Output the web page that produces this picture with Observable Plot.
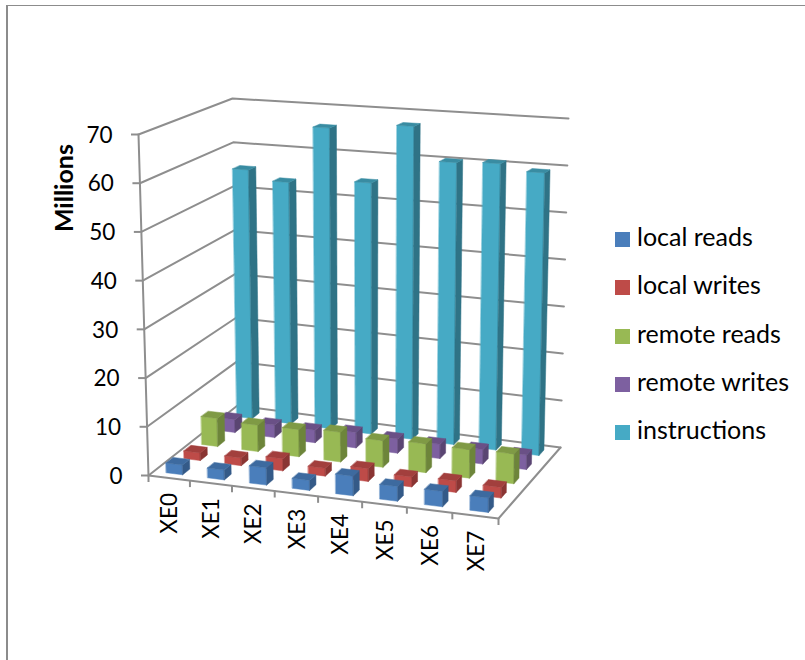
<!DOCTYPE html>
<html>
<head>
<meta charset="utf-8">
<script src="https://cdn.jsdelivr.net/npm/d3@7"></script>
<script src="https://cdn.jsdelivr.net/npm/@observablehq/plot@0.6"></script>
<style>
  html, body { margin: 0; background: #fff; }
  #page { position: relative; width: 805px; height: 660px; overflow: hidden; font-family: Lato, sans-serif; color: #000; }
  #frame { position: absolute; left: 6px; top: 5px; right: -2px; bottom: -2px; border-left: 2px solid #8c8c8c; border-top: 1.5px solid #8c8c8c; }
  #chart { position: absolute; left: 0; top: 0; }
  #legend { position: absolute; left: 615px; top: 212px; font-size: 25px; line-height: 48.25px; white-space: nowrap; }
  #legend i { display: inline-block; width: 15px; height: 15px; margin-right: 7px; vertical-align: -1px; }
</style>
</head>
<body>
<div id="page">
  <div id="frame"></div>
  <div id="chart"></div>
  <div id="legend"></div>
</div>
<script>
// Values in millions, one array per series.
const categories = ["XE0", "XE1", "XE2", "XE3", "XE4", "XE5", "XE6", "XE7"];
const seriesNames = ["local reads", "local writes", "remote reads", "remote writes", "instructions"];
const localReads = [2.0, 2.0, 3.5, 2.0, 3.9, 2.9, 3.0, 2.8];
const localWrites = [1.6, 1.6, 2.5, 1.6, 2.6, 2.0, 2.3, 2.1];
const remoteReads = [6.0, 5.6, 5.7, 6.2, 5.5, 5.9, 5.8, 6.0];
const remoteWrites = [2.8, 2.7, 2.7, 3.3, 3.0, 3.0, 3.0, 3.0];
const instructions = [55.5, 53.4, 66.0, 54.6, 67.5, 60.3, 60.7, 59.4];
const seriesValues = [localReads, localWrites, remoteReads, remoteWrites, instructions];
const yTicks = [0, 10, 20, 30, 40, 50, 60, 70];

const frontColors = ["#4a7ebb", "#be4b48", "#98b954", "#7d60a0", "#46aac5"];
const sideColors = ["#345a88", "#8a3533", "#6d853a", "#5a4572", "#2f7386"];
const topColors = ["#3d6a9f", "#a23f3d", "#7f9a45", "#6a5086", "#398ca2"];
const gridColor = "#8e8e8e";

// Box corners of the plotting volume on the page: [x, y, depth weight].
const yMax = 70;
const corners = {
  frontLeft: { low: [148, 475], high: [138, 134], w: 1 },
  frontRight: { low: [498, 518], high: [501, 153], w: 0.94 },
  backLeft: { low: [237, 405], high: [232, 98], w: 1.02 },
  backRight: { low: [560, 447], high: [568, 118], w: 0.96 }
};

// Perspective projection of (category position, series position, value).
function project(u, v, value) {
  const a = u / categories.length, b = v / seriesNames.length, c = value / yMax;
  let X = 0, Y = 0, W = 0;
  for (const [corner, weight] of [
    [corners.frontLeft, (1 - a) * (1 - b)],
    [corners.frontRight, a * (1 - b)],
    [corners.backLeft, (1 - a) * b],
    [corners.backRight, a * b]
  ]) {
    const px = corner.low[0] + (corner.high[0] - corner.low[0]) * c;
    const py = corner.low[1] + (corner.high[1] - corner.low[1]) * c;
    const k = weight * corner.w;
    X += px * k; Y += py * k; W += k;
  }
  return [X / W, Y / W];
}

// Each bar is three filled faces; back rows first, then left to right.
const faces = [];
function addFace(id, fill, points) {
  for (const [x, y] of points) faces.push({ id, fill, x, y });
}
const barStart = 0.3, barSize = 0.4;
for (let s = seriesNames.length - 1; s >= 0; s--) {
  seriesValues[s].forEach((value, i) => {
    const u0 = i + barStart, u1 = u0 + barSize;
    const v0 = s + barStart, v1 = v0 + barSize;
    addFace(`${s}-${i}-front`, frontColors[s], [
      project(u0, v0, 0), project(u1, v0, 0), project(u1, v0, value), project(u0, v0, value)
    ]);
    addFace(`${s}-${i}-side`, sideColors[s], [
      project(u1, v0, 0), project(u1, v1, 0), project(u1, v1, value), project(u1, v0, value)
    ]);
    addFace(`${s}-${i}-top`, topColors[s], [
      project(u0, v0, value), project(u1, v0, value), project(u1, v1, value), project(u0, v1, value)
    ]);
  });
}

// Wall gridlines, floor outline and axis ticks, all from the same projection.
const nU = categories.length, nV = seriesNames.length;
const wallLines = yTicks.map((t) => [project(0, 0, t), project(0, nV, t), project(nU, nV, t)]);
const floorOutline = [project(0, 0, 0), project(nU, 0, 0), project(nU, nV, 0)];
const yAxisLine = [project(0, 0, 0), project(0, 0, yMax)];
const rows = (lines) => lines.flatMap((pts, k) => pts.map(([x, y]) => ({ k, x, y })));

const catTicks = d3.range(nU + 1).map((u) => project(u, 0, 0));
const catLabels = categories.map((name, i) => {
  const [x, y] = project(i + 0.5, 0, 0);
  return { name, x, y };
});
const valueLabels = yTicks.map((t) => {
  const [x, y] = project(0, 0, t);
  return { t, x, y };
});
const [titleX, titleY] = project(0, 0, 59);

const lineStyle = { x: "x", y: "y", z: "k", stroke: gridColor, strokeWidth: 2 };

const plot = Plot.plot({
  width: 805,
  height: 660,
  margin: 0,
  style: { background: "none", fontFamily: "Lato, sans-serif" },
  x: { domain: [0, 805], axis: null },
  y: { domain: [660, 0], axis: null },
  marks: [
    Plot.line(rows(wallLines), lineStyle),
    Plot.line(rows([floorOutline, yAxisLine]), lineStyle),
    Plot.ruleX(catTicks, { x: "0", y1: "1", y2: (d) => d[1] + 7, stroke: gridColor, strokeWidth: 2 }),
    Plot.ruleY(valueLabels, { y: "y", x1: (d) => d.x - 7, x2: "x", stroke: gridColor, strokeWidth: 2 }),
    Plot.line(faces, { x: "x", y: "y", z: "id", fill: "fill", stroke: "fill", strokeWidth: 0.5, curve: "linear-closed" }),
    Plot.text(valueLabels, { x: "x", y: "y", text: (d) => String(d.t), textAnchor: "end", dx: -26, dy: 1, fontSize: 22.5, fill: "#000" }),
    Plot.text(catLabels, { x: "x", y: "y", text: "name", rotate: -90, textAnchor: "end", dx: 1, dy: 15, fontSize: 22.5, fill: "#000" }),
    Plot.text(["Millions"], { x: () => titleX, y: () => titleY, text: (d) => d, rotate: -90, dx: -75, fontSize: 25, fontWeight: "bold", fill: "#000" })
  ]
});
document.getElementById("chart").append(plot);

// Legend
const legend = d3.select("#legend");
seriesNames.forEach((name, s) => {
  const row = legend.append("div");
  row.append("i").style("background", frontColors[s]);
  row.append("span").text(name);
});
</script>
</body>
</html>
